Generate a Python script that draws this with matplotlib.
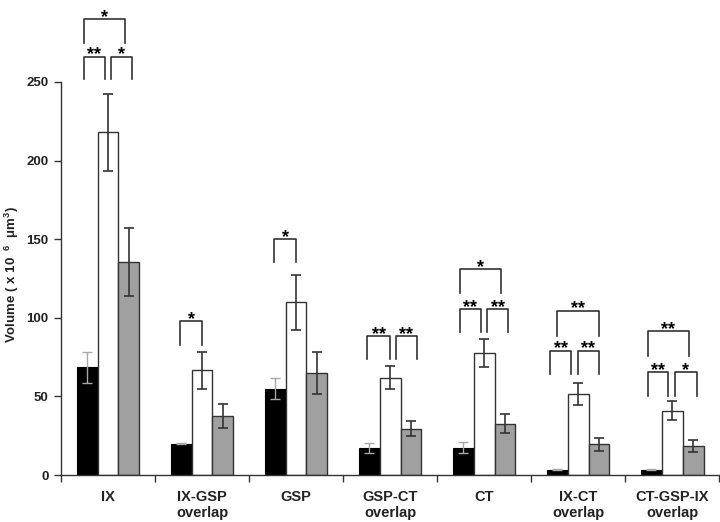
import matplotlib
matplotlib.use("Agg")
import matplotlib.pyplot as plt
import numpy as np

plt.rcParams["font.family"] = ["Liberation Sans", "DejaVu Sans"]
plt.rcParams["font.weight"] = "bold"
plt.rcParams["mathtext.default"] = "regular"

categories = ["IX", "IX-GSP\noverlap", "GSP", "GSP-CT\noverlap", "CT",
              "IX-CT\noverlap", "CT-GSP-IX\noverlap"]

black_vals = [68.5, 20, 55, 17, 17.5, 3.5, 3.5]
black_err = [10, 0.5, 6.5, 3.2, 3.5, 0.5, 0.5]
white_vals = [218, 66.5, 110, 62, 77.5, 51.5, 41]
white_err = [24.5, 11.5, 17.5, 7.5, 9, 7, 6]
gray_vals = [135.5, 37.5, 65, 29.5, 32.5, 19.5, 18.5]
gray_err = [21.5, 7.5, 13.5, 5, 6, 4, 3.7]

# significance brackets: (group, x0 offset, x1 offset, top, leg bottom, label)
brackets = [
    (0, -0.26, -0.035, 266, 252, "**"), (0, 0.03, 0.26, 266, 252, "*"),
    (0, -0.26, 0.18, 290, 275, "*"),
    (1, -0.23, 0.0, 98, 83, "*"),
    (2, -0.23, 0.0, 150, 135.5, "*"),
    (3, -0.24, 0.0, 88.5, 74, "**"), (3, 0.06, 0.29, 88.5, 74, "**"),
    (4, -0.26, -0.035, 105.5, 91, "**"), (4, 0.03, 0.26, 105.5, 91, "**"),
    (4, -0.26, 0.18, 131, 115.5, "*"),
    (5, -0.30, -0.07, 79, 64, "**"), (5, 0.0, 0.22, 79, 64, "**"),
    (5, -0.22, 0.22, 104.5, 88.5, "**"),
    (6, -0.26, -0.04, 65.5, 50.5, "**"), (6, 0.03, 0.26, 65.5, 50.5, "*"),
    (6, -0.26, 0.18, 91.5, 75.5, "**"),
]

DARK = "#333333"

fig = plt.figure(figsize=(7.2, 5.22), dpi=100)
ax = fig.add_axes([0.0847, 0.090, 0.914, 0.753])

x = np.arange(len(categories))
w = 0.223
ax.bar(x - w, black_vals, w, color="black", edgecolor="black", lw=0.8, zorder=2)
ax.bar(x, white_vals, w, color="white", edgecolor=DARK, lw=1.0, zorder=2)
ax.bar(x + w, gray_vals, w, color="#a0a0a0", edgecolor=DARK, lw=1.0, zorder=2)

ax.errorbar(x - w, black_vals, yerr=black_err, fmt="none", ecolor="#a8a8a8",
            elinewidth=1.0, capsize=3.5, capthick=1.0, zorder=3)
ax.errorbar(x, white_vals, yerr=white_err, fmt="none", ecolor=DARK,
            elinewidth=1.2, capsize=3.5, capthick=1.2, zorder=3)
ax.errorbar(x + w, gray_vals, yerr=gray_err, fmt="none", ecolor=DARK,
            elinewidth=1.2, capsize=3.5, capthick=1.2, zorder=3)

for g, x0, x1, top, bot, lab in brackets:
    ax.plot([g + x0, g + x0, g + x1, g + x1], [bot, top, top, bot],
            color=DARK, lw=1.2, clip_on=False, zorder=4)
    ax.annotate(lab, (g + (x0 + x1) / 2, top), xytext=(0, -2),
                textcoords="offset points", ha="center", va="baseline",
                fontsize=13, color="black", annotation_clip=False)

ax.set_xlim(-0.5, len(categories) - 0.5)
ax.set_ylim(0, 250)
ax.set_yticks(np.arange(0, 251, 50))
ax.set_xticks(x)
ax.set_xticklabels(categories, fontsize=10.5, fontweight="bold", color="#222222",
                   linespacing=1.2)
ax.set_xticks(np.arange(-0.5, len(categories)), minor=True)
ax.tick_params(axis="x", which="major", length=0, pad=11)
ax.tick_params(axis="x", which="minor", length=5, width=1.0, color=DARK)
ax.tick_params(axis="y", length=5, width=1.0, color=DARK, labelsize=9.5,
               labelcolor="#222222", pad=4)
for lab in ax.get_yticklabels():
    lab.set_fontweight("bold")

for sp in ("top", "right"):
    ax.spines[sp].set_visible(False)
for sp in ("left", "bottom"):
    ax.spines[sp].set_color(DARK)
    ax.spines[sp].set_linewidth(1.0)

ax.set_ylabel("Volume ( x 10  $^{6}$  μm$^{3}$)", fontsize=9.5, fontweight="bold",
              color="#222222")
ax.yaxis.set_label_coords(-0.06, 0.51)

fig.savefig("out.png", dpi=100, facecolor="white")
